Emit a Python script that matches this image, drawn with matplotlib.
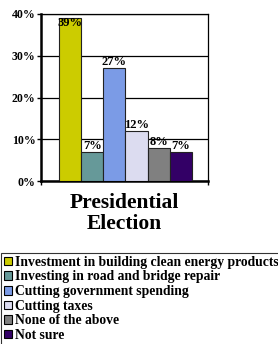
import numpy as np
import matplotlib
matplotlib.use("Agg")
import matplotlib.pyplot as plt
from matplotlib.patches import Patch

plt.rcParams["font.family"] = ["Liberation Serif", "DejaVu Serif"]
plt.rcParams["font.weight"] = "bold"

group_label = "Presidential\nElection"
answers = [
    "Investment in building clean energy products",
    "Investing in road and bridge repair",
    "Cutting government spending",
    "Cutting taxes",
    "None of the above",
    "Not sure",
]
shares = [39, 7, 27, 12, 8, 7]
colors = ["#cccc00", "#669999", "#7b9be6", "#dcdcf0", "#808080", "#330066"]
y_ticks = [0, 10, 20, 30, 40]

fig = plt.figure(figsize=(2.78, 3.44), dpi=100)
W, H = 278, 344
ax = fig.add_axes([41 / W, 1 - 181 / H, 167 / W, 167 / H])

x = np.arange(len(shares))
bars = ax.bar(x, shares, width=1.0, color=colors, edgecolor="#222222",
              linewidth=0.8, zorder=3)

for bar, val in zip(bars, shares):
    cx = bar.get_x() + bar.get_width() / 2
    if val >= 38:
        ax.text(cx, val + 0.3, f"{val}%", ha="center", va="top", fontsize=9,
                fontweight="bold", zorder=4)
    else:
        ax.text(cx, val, f"{val}%", ha="center", va="bottom", fontsize=9,
                fontweight="bold", zorder=4)

ax.set_ylim(0, 40)
ax.set_xlim(-1.31, 6.22)
ax.set_yticks(y_ticks)
ax.set_yticklabels([f"{t}%" for t in y_ticks], fontsize=8.5, fontweight="bold")
ax.yaxis.grid(True, color="black", linewidth=0.9, zorder=0)
ax.set_xticks([-1.31, 6.22])
ax.set_xticklabels([])
ax.tick_params(axis="y", length=3, width=1, pad=1)
ax.tick_params(axis="x", length=3, width=1)
for side in ["top", "right"]:
    ax.spines[side].set_linewidth(0.9)
ax.spines["left"].set_linewidth(1.8)
ax.spines["bottom"].set_linewidth(1.8)

ax.text(0.5, -0.07, group_label, transform=ax.transAxes, ha="center",
        va="top", fontsize=15.5, fontweight="bold", linespacing=1.1)

handles = [Patch(facecolor=c, edgecolor="black", linewidth=0.8) for c in colors]
leg = fig.legend(handles, answers, loc="upper left",
                 bbox_to_anchor=(1 / W, 1 - 253 / H), fontsize=9.8,
                 frameon=True, fancybox=False, edgecolor="black",
                 handlelength=0.6, handleheight=0.6, handletextpad=0.25,
                 labelspacing=0.12, borderpad=0.2, borderaxespad=0)
leg.get_frame().set_linewidth(0.8)
for t in leg.get_texts():
    t.set_fontweight("bold")

fig.savefig("out.png", dpi=100)
